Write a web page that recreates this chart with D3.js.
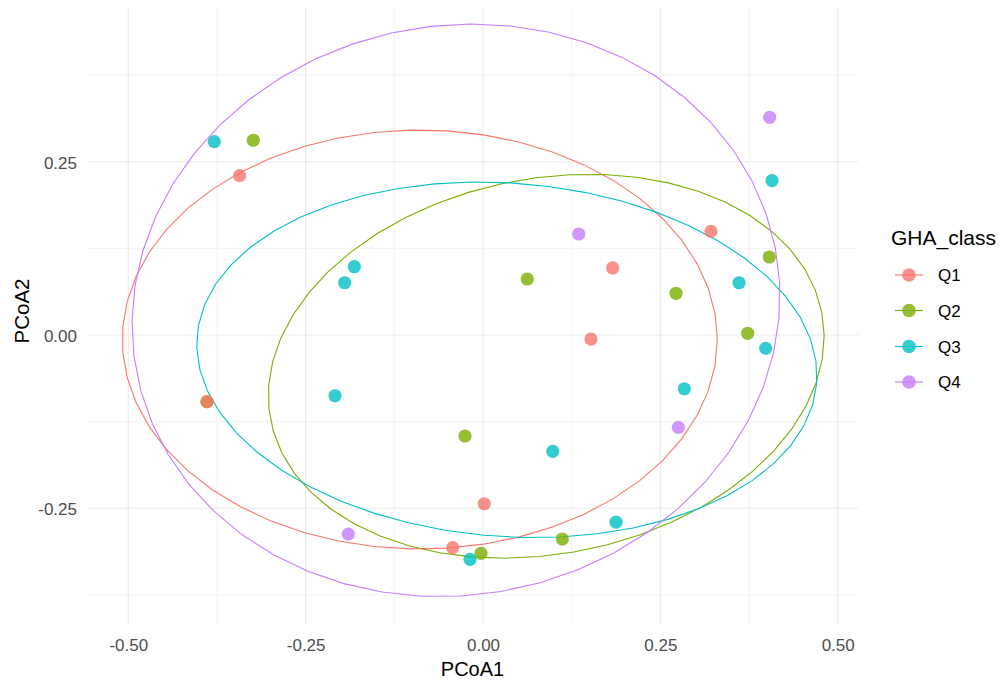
<!DOCTYPE html>
<html>
<head>
<meta charset="utf-8">
<script src="https://cdn.jsdelivr.net/npm/d3@7"></script>
<style>
  html, body { margin: 0; padding: 0; background: #ffffff; }
  svg { display: block; font-family: "Liberation Sans", Arial, sans-serif; }
</style>
</head>
<body>
<script>
// ---------- data ----------
const groups = ["Q1", "Q2", "Q3", "Q4"];
const groupColors = ["#F8766D", "#7CAE00", "#00BFC4", "#C77CFF"];

const pointsQ1 = [[-0.3430, 0.2298], [-0.3891, -0.0962], [0.1828, 0.0967], [0.3214, 0.1496],
                  [0.1522, -0.0058], [0.0018, -0.2434], [-0.0427, -0.3068]];
const pointsQ2 = [[-0.3238, 0.2809], [-0.3891, -0.0962], [0.0624, 0.0808], [0.2721, 0.0602],
                  [0.4036, 0.1125], [0.3731, 0.0025], [-0.0254, -0.1457], [-0.0028, -0.3149],
                  [0.1118, -0.2943]];
const pointsQ3 = [[-0.3788, 0.2789], [-0.1814, 0.0985], [-0.1950, 0.0754], [-0.2086, -0.0876],
                  [-0.0183, -0.3236], [0.4074, 0.2226], [0.3609, 0.0754], [0.3985, -0.0192],
                  [0.2838, -0.0775], [0.0983, -0.1678], [0.1875, -0.2698]];
const pointsQ4 = [[0.4041, 0.3140], [0.1349, 0.1457], [0.2753, -0.1332], [-0.1899, -0.2871]];

// ellipse: centre, and the two semi-axis vectors (data units)
const ellipseCx = [-0.0891, 0.0891, 0.0336, -0.0381];
const ellipseCy = [-0.0065, -0.0450, -0.0358, 0.0356];
const ellipseU  = [[0.4194, 0.0000], [0.3885, 0.0777], [0.4368, -0.0335], [0.4501, 0.0904]];
const ellipseV  = [[0.0000, 0.3022], [-0.0507, 0.2658], [0.0186, 0.2543], [-0.0773, 0.4030]];

const xTicks = [-0.5, -0.25, 0, 0.25, 0.5];
const xTickLabels = ["-0.50", "-0.25", "0.00", "0.25", "0.50"];
const xMinor = [-0.375, -0.125, 0.125, 0.375];
const yTicks = [-0.25, 0, 0.25];
const yTickLabels = ["-0.25", "0.00", "0.25"];
const yMinor = [-0.375, -0.125, 0.125, 0.375];

const xTitle = "PCoA1", yTitle = "PCoA2", legendTitle = "GHA_class";

// ---------- layout ----------
const W = 1003, H = 682;
const panel = { left: 87, right: 858, top: 8, bottom: 625 };

const x = d3.scaleLinear().domain([-0.5582, 0.5286]).range([panel.left, panel.right]);
const y = d3.scaleLinear().domain([-0.4183, 0.4717]).range([panel.bottom, panel.top]);

const svg = d3.select("body").append("svg").attr("width", W).attr("height", H);

// grid
const grid = svg.append("g");
grid.selectAll(".xminor").data(xMinor).join("line")
  .attr("x1", d => x(d)).attr("x2", d => x(d)).attr("y1", panel.top).attr("y2", panel.bottom)
  .attr("stroke", "#EBEBEB").attr("stroke-width", 0.6);
grid.selectAll(".yminor").data(yMinor).join("line")
  .attr("y1", d => y(d)).attr("y2", d => y(d)).attr("x1", panel.left).attr("x2", panel.right)
  .attr("stroke", "#EBEBEB").attr("stroke-width", 0.6);
grid.selectAll(".xmajor").data(xTicks).join("line")
  .attr("x1", d => x(d)).attr("x2", d => x(d)).attr("y1", panel.top).attr("y2", panel.bottom)
  .attr("stroke", "#EBEBEB").attr("stroke-width", 1.1);
grid.selectAll(".ymajor").data(yTicks).join("line")
  .attr("y1", d => y(d)).attr("y2", d => y(d)).attr("x1", panel.left).attr("x2", panel.right)
  .attr("stroke", "#EBEBEB").attr("stroke-width", 1.1);

// axes (text only, like theme_minimal)
const xAxis = d3.axisBottom(x).tickValues(xTicks).tickFormat((d, i) => xTickLabels[i]).tickSize(0).tickPadding(0);
const gx = svg.append("g").attr("transform", `translate(0,${panel.bottom})`).call(xAxis);
gx.select(".domain").remove();
gx.selectAll("text").attr("dy", null).attr("y", 26).attr("fill", "#4D4D4D")
  .style("font-size", "17px").style("font-family", "Liberation Sans, Arial, sans-serif");

const yAxis = d3.axisLeft(y).tickValues(yTicks).tickFormat((d, i) => yTickLabels[i]).tickSize(0).tickPadding(0);
const gy = svg.append("g").attr("transform", `translate(77,0)`).call(yAxis);
gy.select(".domain").remove();
gy.selectAll("text").attr("x", 0).attr("dy", "0.38em").attr("fill", "#4D4D4D")
  .style("font-size", "17px").style("font-family", "Liberation Sans, Arial, sans-serif");

// axis titles
svg.append("text").attr("x", (panel.left + panel.right) / 2).attr("y", 676)
  .attr("text-anchor", "middle").style("font-size", "20px").attr("fill", "#000").text(xTitle);
svg.append("text").attr("transform", `translate(29,311) rotate(-90)`)
  .attr("text-anchor", "middle").style("font-size", "20.5px").attr("fill", "#000").text(yTitle);

// ellipses
const nSeg = 51;
const ellipseLine = d3.line().x(d => x(d[0])).y(d => y(d[1]));
groups.forEach((g, i) => {
  const pts = d3.range(nSeg + 1).map(k => {
    const t = 2 * Math.PI * k / nSeg;
    return [ellipseCx[i] + ellipseU[i][0] * Math.cos(t) + ellipseV[i][0] * Math.sin(t),
            ellipseCy[i] + ellipseU[i][1] * Math.cos(t) + ellipseV[i][1] * Math.sin(t)];
  });
  svg.append("path").attr("d", ellipseLine(pts)).attr("fill", "none")
    .attr("stroke", groupColors[i]).attr("stroke-width", 1.1);
});

// points
const groupPoints = [pointsQ1, pointsQ2, pointsQ3, pointsQ4];
const drawOrder = [2, 3, 1, 0];
drawOrder.forEach(i => {
  svg.append("g").selectAll("circle").data(groupPoints[i]).join("circle")
    .attr("cx", d => x(d[0])).attr("cy", d => y(d[1])).attr("r", 6.6)
    .attr("fill", groupColors[i]).attr("fill-opacity", 0.8);
});

// legend
const lg = svg.append("g");
lg.append("text").attr("x", 891).attr("y", 245).style("font-size", "21px").attr("fill", "#000").text(legendTitle);
const keyY = [275, 310.5, 346.5, 382];
groups.forEach((g, i) => {
  lg.append("line").attr("x1", 895).attr("x2", 923).attr("y1", keyY[i]).attr("y2", keyY[i])
    .attr("stroke", groupColors[i]).attr("stroke-width", 1.1);
  lg.append("circle").attr("cx", 909).attr("cy", keyY[i]).attr("r", 6.8)
    .attr("fill", groupColors[i]).attr("fill-opacity", 0.8);
  lg.append("text").attr("x", 938).attr("y", keyY[i]).attr("dy", "0.36em")
    .style("font-size", "17px").attr("fill", "#000").text(g);
});
</script>
</body>
</html>
